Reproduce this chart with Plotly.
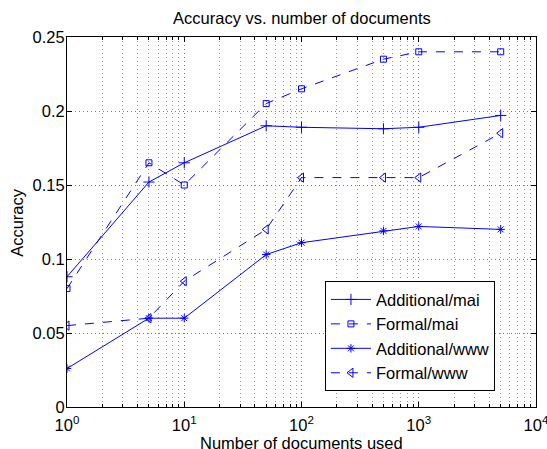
import plotly.graph_objects as go

docs = [1, 5, 10, 50, 100, 500, 1000, 5000]
additional_mai = [0.088, 0.152, 0.165, 0.190, 0.189, 0.188, 0.189, 0.197]
formal_mai = [0.080, 0.165, 0.150, 0.205, 0.215, 0.235, 0.240, 0.240]
additional_www = [0.026, 0.060, 0.060, 0.103, 0.111, 0.119, 0.122, 0.120]
formal_www = [0.055, 0.060, 0.085, 0.120, 0.155, 0.155, 0.155, 0.185]

x_tickvals = [1, 10, 100, 1000, 10000]
x_ticktext = ["10<sup>0</sup>", "10<sup>1</sup>", "10<sup>2</sup>", "10<sup>3</sup>", "10<sup>4</sup>"]
y_tickvals = [0, 0.05, 0.1, 0.15, 0.2, 0.25]
y_ticktext = ["0", "0.05", "0.1", "0.15", "0.2", "0.25"]

blue = "rgb(0,0,255)"
series = [
    ("Additional/mai", additional_mai, "solid", "cross-thin-open", 8),
    ("Formal/mai", formal_mai, "dash", "square-open", 6),
    ("Additional/www", additional_www, "solid", "asterisk-open", 7),
    ("Formal/www", formal_www, "dash", "triangle-left-open", 8),
]

fig = go.Figure()
for name, vals, dash, sym, size in series:
    fig.add_trace(go.Scatter(
        x=docs, y=vals, name=name, mode="lines+markers",
        line=dict(color=blue, width=1, dash=dash),
        marker=dict(symbol=sym, size=size, color=blue, line=dict(color=blue, width=1)),
    ))

font = "Liberation Sans, Arial, Helvetica, sans-serif"
grid_dash = "1px,3px"
fig.update_layout(
    width=547, height=449,
    margin=dict(l=67, r=11, t=37, b=42),
    paper_bgcolor="white", plot_bgcolor="white",
    font=dict(family=font, color="black", size=17),
    title=dict(text="Accuracy vs. number of documents", x=0.552, xanchor="center",
               y=0.96, yanchor="middle", font=dict(size=16.5)),
    showlegend=True,
    legend=dict(x=0.55, y=0.34, xanchor="left", yanchor="top",
                bgcolor="white", bordercolor="black", borderwidth=1,
                font=dict(size=16.5), itemwidth=40, tracegroupgap=0),
    annotations=[
        dict(text="Number of documents used", xref="paper", yref="paper",
             x=0.5, y=-0.097, xanchor="center", yanchor="middle",
             showarrow=False, font=dict(size=16.5)),
        dict(text="Accuracy", xref="paper", yref="paper",
             x=-0.107, y=0.5, xanchor="center", yanchor="middle", textangle=-90,
             showarrow=False, font=dict(size=16.5)),
    ],
)
fig.update_xaxes(
    type="log", range=[0, 4], automargin=False, ticklabeloverflow="allow",
    tickvals=x_tickvals, ticktext=x_ticktext, ticklabelstandoff=3,
    ticks="inside", ticklen=5, tickcolor="black",
    showline=True, linecolor="black", linewidth=1, mirror="allticks",
    showgrid=True, gridcolor="rgb(120,120,120)", griddash=grid_dash, gridwidth=1,
    minor=dict(dtick="D1", showgrid=True, gridcolor="rgb(150,150,150)", griddash=grid_dash,
               ticks="inside", ticklen=3, tickcolor="black"),
    tickfont=dict(size=16.5),
    zeroline=False,
)
fig.update_yaxes(
    range=[0, 0.25], automargin=False, ticklabeloverflow="allow",
    tickvals=y_tickvals, ticktext=y_ticktext, ticklabelstandoff=-2,
    ticks="inside", ticklen=5, tickcolor="black",
    showline=True, linecolor="black", linewidth=1, mirror="allticks",
    showgrid=True, gridcolor="rgb(120,120,120)", griddash=grid_dash, gridwidth=1,
    tickfont=dict(size=16.5),
    zeroline=False,
)
fig.write_html("out.html", config={"displayModeBar": False},
               post_script="document.body.style.margin='0';document.body.style.overflow='hidden';")
